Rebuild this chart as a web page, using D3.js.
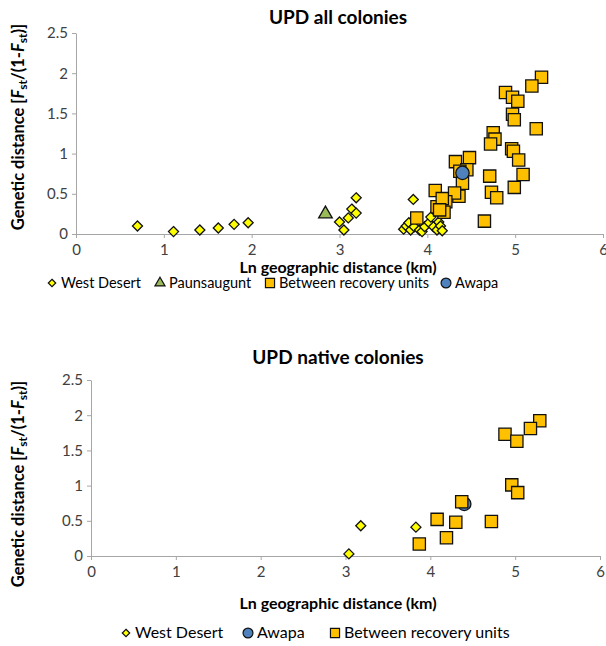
<!DOCTYPE html>
<html>
<head>
<meta charset="utf-8">
<script src="https://cdn.jsdelivr.net/npm/d3@7"></script>
<style>
  body { margin: 0; background: #fff; }
  svg { font-family: Lato, "Liberation Sans", sans-serif; }
</style>
</head>
<body>
<svg id="chart"></svg>
<script>
// data: [ln distance, Fst/(1-Fst)]
const xTicks = [0, 1, 2, 3, 4, 5, 6];
const yTicks = [0, 0.5, 1, 1.5, 2, 2.5];

const allWestDesert = [
  [0.70, 0.10], [1.11, 0.03], [1.41, 0.05], [1.62, 0.075], [1.80, 0.12], [1.96, 0.14],
  [3.00, 0.15], [3.05, 0.05], [3.10, 0.20], [3.14, 0.31], [3.19, 0.26], [3.19, 0.45],
  [3.84, 0.43], [3.73, 0.06], [3.76, 0.10], [3.79, 0.14], [3.81, 0.05], [3.85, 0.09],
  [3.91, 0.05], [3.94, 0.03], [3.97, 0.09], [4.02, 0.14], [4.04, 0.21], [4.07, 0.09],
  [4.11, 0.05], [4.13, 0.15], [4.15, 0.10], [4.17, 0.04]
];
const allPaunsaugunt = [[2.84, 0.25]];
const allBetween = [
  [5.30, 1.95], [5.19, 1.84], [4.89, 1.76], [4.97, 1.70], [5.03, 1.65], [4.97, 1.49],
  [4.99, 1.42], [5.24, 1.31], [4.75, 1.26], [4.77, 1.18], [4.72, 1.12], [4.96, 1.06],
  [4.98, 1.03], [5.04, 0.92], [5.09, 0.74], [4.99, 0.58], [4.71, 0.72], [4.73, 0.52],
  [4.79, 0.45], [4.65, 0.16], [4.48, 0.95], [4.32, 0.90], [4.45, 0.80], [4.37, 0.78],
  [4.40, 0.63], [4.36, 0.47], [4.31, 0.51], [4.09, 0.54], [4.21, 0.40], [4.19, 0.27],
  [4.11, 0.34], [3.88, 0.20], [4.17, 0.44], [4.14, 0.30]
];
const allAwapa = [[4.40, 0.76]];

const nativeWestDesert = [[3.04, 0.03], [3.18, 0.43], [3.83, 0.41]];
const nativeAwapa = [[4.40, 0.74]];
const nativeBetween = [
  [5.29, 1.92], [5.18, 1.81], [4.88, 1.73], [5.02, 1.63], [4.96, 1.01], [5.03, 0.90],
  [4.37, 0.77], [4.08, 0.52], [4.30, 0.48], [4.72, 0.49], [4.19, 0.26], [3.87, 0.17]
];

const width = 606;
const height = 646;

const styles = {
  'West Desert': { shape: d3.symbolDiamond2, size: 64, fill: '#ffff00' },
  'Paunsaugunt': { shape: d3.symbolTriangle, size: 80, fill: '#9bbb59' },
  'Between recovery units': { shape: d3.symbolSquare, size: 150, fill: '#ffc000' },
  'Awapa': { shape: d3.symbolCircle, size: 140, fill: '#4f81bd' }
};

const svg = d3.select('#chart')
  .attr('width', width)
  .attr('height', height);

function drawPanel(opts) {
  const x = d3.scaleLinear().domain([0, 6]).range(opts.xRange);
  const y = d3.scaleLinear().domain([0, 2.5]).range(opts.yRange);
  const g = svg.append('g');

  // axes
  const xAxis = g.append('g')
    .attr('transform', `translate(0,${opts.yRange[0]})`)
    .call(d3.axisBottom(x).tickValues(xTicks).tickSize(4).tickSizeOuter(0).tickFormat(d3.format('d')));
  const yAxis = g.append('g')
    .attr('transform', `translate(${opts.xRange[0]},0)`)
    .call(d3.axisLeft(y).tickValues(yTicks).tickSize(4).tickSizeOuter(0).tickFormat(d => d));
  [xAxis, yAxis].forEach(a => {
    a.select('.domain').attr('stroke', '#a6a6a6');
    a.selectAll('line').attr('stroke', '#a6a6a6');
    a.selectAll('text').attr('fill', '#404040').style('font-size', '15px').style('font-family', 'Lato');
  });
  xAxis.selectAll('text').attr('dy', '0.9em');
  yAxis.selectAll('text').attr('x', -8);

  // points
  opts.series.forEach(s => {
    const st = styles[s.name];
    g.selectAll(null)
      .data(s.values)
      .enter()
      .append('path')
      .attr('d', d3.symbol(st.shape, st.size))
      .attr('transform', d => `translate(${x(d[0])},${y(d[1])})`)
      .attr('fill', st.fill)
      .attr('stroke', '#111')
      .attr('stroke-width', 1.3);
  });

  // title
  g.append('text')
    .attr('x', opts.titleX).attr('y', opts.titleY)
    .attr('text-anchor', 'middle')
    .style('font-size', '19px').style('font-weight', 'bold')
    .text(opts.title);

  // x title
  g.append('text')
    .attr('x', opts.titleX).attr('y', opts.xTitleY)
    .attr('text-anchor', 'middle')
    .style('font-size', '16px').style('font-weight', 'bold')
    .text('Ln geographic distance (km)');

  // y title
  const yt = g.append('text')
    .attr('transform', `translate(${opts.yTitleX},${opts.yTitleCy}) rotate(-90)`)
    .attr('text-anchor', 'middle')
    .style('font-size', '16.5px').style('font-weight', 'bold');
  yt.append('tspan').text('Genetic distance [');
  yt.append('tspan').style('font-style', 'italic').text('F');
  yt.append('tspan').attr('baseline-shift', '-25%').style('font-size', '12px').text('st');
  yt.append('tspan').text('/(1-');
  yt.append('tspan').style('font-style', 'italic').text('F');
  yt.append('tspan').attr('baseline-shift', '-25%').style('font-size', '12px').text('st');
  yt.append('tspan').text(')]');

  // legend
  const leg = g.append('g');
  opts.legend.forEach(item => {
    const st = styles[item.name];
    leg.append('path')
      .attr('d', d3.symbol(st.shape, st.size * 0.55))
      .attr('transform', `translate(${item.x},${opts.legendY - 5})`)
      .attr('fill', st.fill)
      .attr('stroke', '#111')
      .attr('stroke-width', 1.2);
    leg.append('text')
      .attr('x', item.x + 9).attr('y', opts.legendY)
      .style('font-size', opts.legendSize)
      .attr('fill', '#000')
      .text(item.name);
  });
}

drawPanel({
  title: 'UPD all colonies',
  titleX: 338, titleY: 24, xTitleY: 273,
  xRange: [76, 603], yRange: [234, 33],
  yTitleX: 24, yTitleCy: 127,
  legendY: 288, legendSize: '14.5px',
  series: [
    { name: 'West Desert', values: allWestDesert },
    { name: 'Paunsaugunt', values: allPaunsaugunt },
    { name: 'Between recovery units', values: allBetween },
    { name: 'Awapa', values: allAwapa }
  ],
  legend: [
    { name: 'West Desert', x: 52 },
    { name: 'Paunsaugunt', x: 160 },
    { name: 'Between recovery units', x: 270 },
    { name: 'Awapa', x: 446 }
  ]
});

drawPanel({
  title: 'UPD native colonies',
  titleX: 338, titleY: 364, xTitleY: 609,
  xRange: [91, 600], yRange: [556, 380],
  yTitleX: 24, yTitleCy: 484,
  legendY: 638, legendSize: '16px',
  series: [
    { name: 'West Desert', values: nativeWestDesert },
    { name: 'Awapa', values: nativeAwapa },
    { name: 'Between recovery units', values: nativeBetween }
  ],
  legend: [
    { name: 'West Desert', x: 126 },
    { name: 'Awapa', x: 248 },
    { name: 'Between recovery units', x: 335 }
  ]
});
</script>
</body>
</html>
